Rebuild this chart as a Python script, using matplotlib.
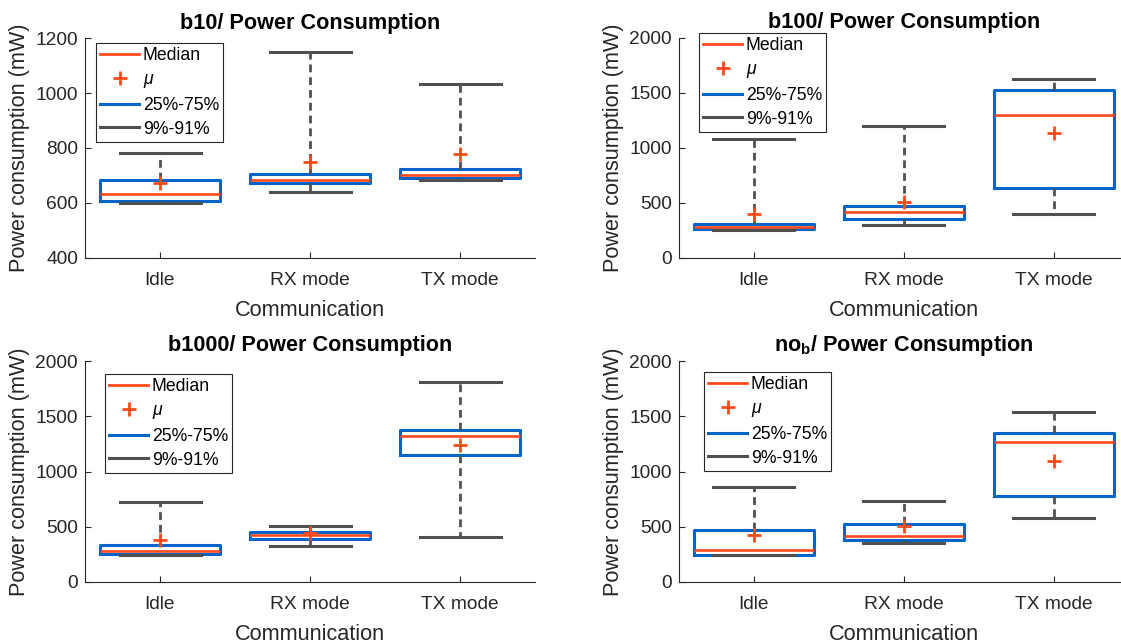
import matplotlib
matplotlib.use('Agg')
import matplotlib.pyplot as plt
from matplotlib.lines import Line2D

plt.rcParams['font.family'] = ['Liberation Sans', 'DejaVu Sans']
plt.rcParams['mathtext.fontset'] = 'custom'
plt.rcParams['mathtext.rm'] = 'Liberation Sans'
plt.rcParams['mathtext.it'] = 'Liberation Sans:italic'
plt.rcParams['mathtext.bf'] = 'Liberation Sans:bold'

categories = ['Idle', 'RX mode', 'TX mode']

# b10 panel: 9%, 25%, median, 75%, 91%, mean (mW)
b10_p9 = [598, 641, 682]
b10_q1 = [608, 674, 689]
b10_med = [634, 685, 702]
b10_q3 = [685, 706, 722]
b10_p91 = [781, 1150, 1033]
b10_mean = [672, 748, 778]

# b100 panel
b100_p9 = [253, 299, 402]
b100_q1 = [259, 354, 631]
b100_med = [280, 412, 1296]
b100_q3 = [305, 470, 1530]
b100_p91 = [1079, 1201, 1628]
b100_mean = [396, 509, 1137]

# b1000 panel
b1000_p9 = [243, 322, 410]
b1000_q1 = [255, 385, 1147]
b1000_med = [285, 422, 1317]
b1000_q3 = [334, 455, 1372]
b1000_p91 = [728, 507, 1806]
b1000_mean = [376, 443, 1238]

# no_b panel
nob_p9 = [242, 352, 583]
nob_q1 = [243, 376, 780]
nob_med = [288, 413, 1263]
nob_q3 = [467, 528, 1348]
nob_p91 = [862, 737, 1539]
nob_mean = [428, 504, 1099]

titles = ['b10/ Power Consumption', 'b100/ Power Consumption',
          'b1000/ Power Consumption', r'no$_{\mathbf{b}}$/ Power Consumption']

W, H = 1121, 643
ORANGE = '#FF4A1C'
BLUE = '#0064C8'
GRAY = '#505050'
AXC = '#262626'

fig = plt.figure(figsize=(W / 100, H / 100), dpi=100)

def px_axes(l, r, t, b):
    return fig.add_axes([l / W, 1 - b / H, (r - l) / W, (b - t) / H])

panels = [
    dict(pos=(85, 535, 38.3, 257.7), data=(b10_p9, b10_q1, b10_med, b10_q3, b10_p91, b10_mean),
         ylim=(400, 1200), yticks=[400, 600, 800, 1000, 1200], leg=(96, 43)),
    dict(pos=(679, 1129, 38.0, 257.7), data=(b100_p9, b100_q1, b100_med, b100_q3, b100_p91, b100_mean),
         ylim=(0, 2000), yticks=[0, 500, 1000, 1500, 2000], leg=(699, 33)),
    dict(pos=(85, 535, 361, 582), data=(b1000_p9, b1000_q1, b1000_med, b1000_q3, b1000_p91, b1000_mean),
         ylim=(0, 2000), yticks=[0, 500, 1000, 1500, 2000], leg=(105, 374)),
    dict(pos=(679, 1129, 361, 582), data=(nob_p9, nob_q1, nob_med, nob_q3, nob_p91, nob_mean),
         ylim=(0, 2000), yticks=[0, 500, 1000, 1500, 2000], leg=(704, 372)),
]

for p, title in zip(panels, titles):
    ax = px_axes(*p['pos'])
    p9, q1, med, q3, p91, mean = p['data']
    stats = []
    for i in range(len(categories)):
        stats.append(dict(whislo=p9[i], q1=q1[i], med=med[i], q3=q3[i],
                          whishi=p91[i], mean=mean[i], fliers=[], label=categories[i]))
    ax.bxp(stats, positions=[1, 2, 3], widths=0.8, capwidths=0.54, showmeans=True,
           showfliers=False,
           boxprops=dict(color=BLUE, linewidth=2.2),
           medianprops=dict(color=ORANGE, linewidth=1.9),
           whiskerprops=dict(color=GRAY, linewidth=2.0, linestyle=(0, (2.8, 1.8))),
           capprops=dict(color=GRAY, linewidth=2.2),
           meanprops=dict(marker='+', markersize=10, markeredgewidth=2.0,
                          markeredgecolor=ORANGE, color=ORANGE, linestyle='none'))
    ax.set_xlim(0.5, 3.5)
    ax.set_ylim(*p['ylim'])
    ax.set_yticks(p['yticks'])
    ax.set_xticks([1, 2, 3])
    ax.set_xticklabels(categories)
    for s in ['top', 'right']:
        ax.spines[s].set_visible(False)
    for s in ['left', 'bottom']:
        ax.spines[s].set_color(AXC)
        ax.spines[s].set_linewidth(0.8)
    ax.tick_params(direction='in', length=4, width=0.8, color=AXC, labelcolor=AXC,
                   labelsize=13.8)
    ax.tick_params(axis='x', pad=10)
    ax.tick_params(axis='y', pad=5)
    ax.set_xlabel('Communication', fontsize=15.6, color=AXC, labelpad=8)
    ax.set_ylabel('Power consumption (mW)', fontsize=15.6, color=AXC, labelpad=4)
    ax.set_title(title, fontsize=15.6, fontweight='bold', color='black', pad=7)

    handles = [
        Line2D([], [], color=ORANGE, linewidth=2.0),
        Line2D([], [], color=ORANGE, linestyle='none', marker='+', markersize=10,
               markeredgewidth=2.0),
        Line2D([], [], color=BLUE, linewidth=2.2),
        Line2D([], [], color=GRAY, linewidth=2.2),
    ]
    labels = ['Median', r'$\mu$', '25%-75%', '9%-91%']
    lx, ly = p['leg']
    leg = ax.legend(handles, labels, loc='upper left',
                    bbox_to_anchor=(lx / W, 1 - ly / H), bbox_transform=fig.transFigure,
                    borderaxespad=0, fontsize=12.7, frameon=True, fancybox=False,
                    framealpha=1, edgecolor=AXC, handlelength=2.2, handletextpad=0.2,
                    labelspacing=0.38, borderpad=0.25)
    leg.get_frame().set_linewidth(0.8)
    for t in leg.get_texts():
        t.set_color('black')

fig.savefig('out.png', dpi=100)
